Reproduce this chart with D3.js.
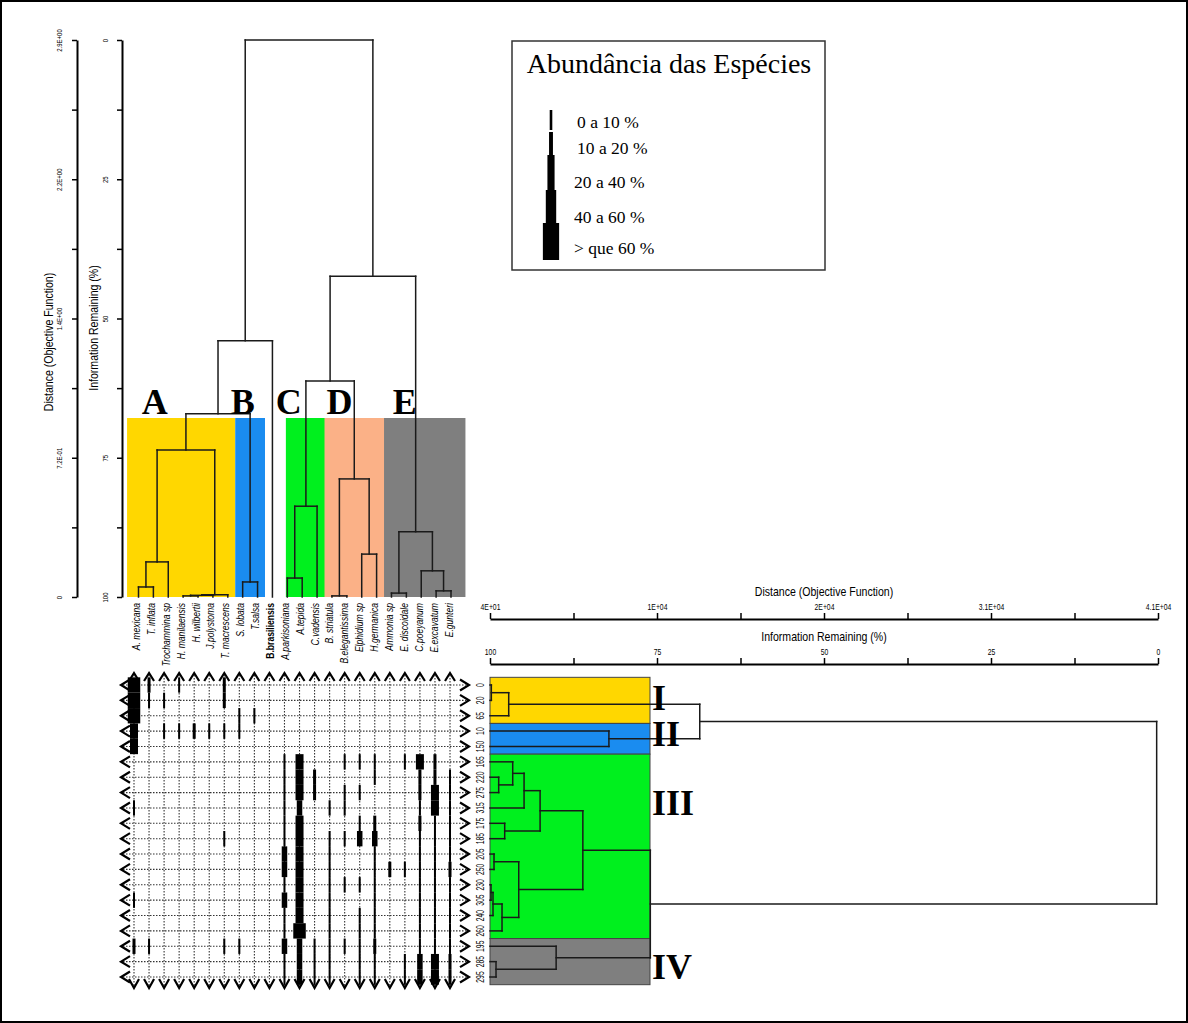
<!DOCTYPE html>
<html>
<head>
<meta charset="utf-8">
<script src="https://cdn.jsdelivr.net/npm/d3@7"></script>
<style>
  body { margin: 0; background: #fff; }
  svg text { font-family: "Liberation Sans", Arial, sans-serif; }
  svg text.serif { font-family: "Liberation Serif", "Times New Roman", serif; }
</style>
</head>
<body>
<svg id="chart"></svg>
<script>
// species (columns / top dendrogram leaves)
let species = ["A. mexicana", "T. inflata", "Trochammina sp", "H. manilaensis", "H. wilbertii",
  "J.polystoma", "T. macrescens", "S. lobata", "T.salsa", "B.brasiliensis", "A.parkisoniana",
  "A.tepida", "C.vadensis", "B. striatula", "B.elegantissima", "Elphidium sp", "H.germanica",
  "Ammonia sp", "E. discoidale", "C.poeyanum", "E.excavatum", "E.gunteri"];

// samples (rows / right dendrogram leaves)
let samples = ["0", "20", "65", "10", "150", "165", "220", "275", "315", "175", "185",
  "205", "250", "230", "305", "240", "260", "195", "285", "295"];

// dendrograms: [information remaining %, left, right], leaves = index
let speciesTree = [0,
  [54, [67.1, [73.6, [93.7, [98.2, 0, 1], 2], [99.6, [99.7, [99.8, 3, 4], 5], 6]], [97.3, 7, 8]], 9],
  [42.4, [61.2, [83.7, [96.6, 10, 11], 12], [78.8, [99.8, 13, 14], [92.3, 15, 16]]],
    [88.3, [99.3, 17, 18], [95.3, 19, [98.9, 20, 21]]]]];

let sampleTree = [0.2,
  [68.6, [97.2, [99.8, 0, 1], 2], [82.2, 3, 4]],
  [76.0, [86.1, [92.5, [94.9, [96.6, 5, [98.7, 6, 7]], 8], [97.8, 9, 10]],
    [95.7, [99.4, 11, 12], [98.2, [99.55, [99.85, 13, 14], 15], 16]]],
    [90.1, 17, [99.1, 18, 19]]]];

// groups
let speciesGroups = ["A", "B", "C", "D", "E"];
let speciesGroupMembers = [[0, 6], [7, 8], [10, 12], [13, 16], [17, 21]];
let speciesGroupLabelAt = [1.1, 7.0, 10.1, 13.5, 17.9];
let sampleGroups = ["I", "II", "III", "IV"];
let sampleGroupMembers = [[0, 2], [3, 4], [5, 16], [17, 19]];
let sampleGroupLabelAt = [0.75, 3.1, 7.6, 18.3];
let groupColors = ["#ffd700", "#1a8cf0", "#00f01e", "#fbb187", "#7f7f7f"];
let sampleColors = ["#ffd700", "#1a8cf0", "#00f01e", "#7f7f7f"];

// abundance class per sample (row) and species (column): 0 none .. 5 > 60 %
let abundance = [
  "5201002000000000000000",
  "5110002000000000000000",
  "5000000110000000000000",
  "4011211100000000000000",
  "4000000000000000000000",
  "0000000000140011101420",
  "0000000000142000100221",
  "0000000000142011000241",
  "1000000000130110000141",
  "0000000000140001200211",
  "0000001000140113300111",
  "0000000000340100100111",
  "0000000000340100121112",
  "0000000000140111100111",
  "1000000000340100100111",
  "0000000000140101100111",
  "0000000000150101100111",
  "2100001100331111200111",
  "0000000000131101101342",
  "0000000000131101101342"
];
let classLabels = ["0 a 10 %", "10 a 20 %", "20 a 40 %", "40 a 60 %", "> que 60 %"];

// axes
let infoTicks = [0, 25, 50, 75, 100];
let allTicks = [0, 12.5, 25, 37.5, 50, 62.5, 75, 87.5, 100];
let infoLabels = ["0", "25", "50", "75", "100"];
let leftDistLabels = ["2.9E+00", "2.2E+00", "1.4E+00", "7.2E-01", "0"];
let rightDistLabels = ["4.1E+04", "3.1E+04", "2E+04", "1E+04", "4E+01"];

let svgWidth = 1188, svgHeight = 1023;
let svg = d3.select("#chart").attr("width", svgWidth).attr("height", svgHeight);

svg.append("rect").attr("x", 1).attr("y", 1).attr("width", svgWidth - 2).attr("height", svgHeight - 2)
  .attr("fill", "#fff").attr("stroke", "#000").attr("stroke-width", 2);

// scales
let leafX = d3.scalePoint().domain(d3.range(species.length)).range([138.5, 451]);
let gridX = d3.scalePoint().domain(d3.range(species.length)).range([134, 450]);
let infoY = d3.scaleLinear().domain([0, 100]).range([40, 597]);
let rowY = d3.scalePoint().domain(d3.range(samples.length)).range([685, 977]);
let infoX = d3.scaleLinear().domain([100, 0]).range([490, 1158]);
let barW = d3.scaleOrdinal().domain([1, 2, 3, 4, 5]).range([2, 3, 5.5, 8, 12.5]);

function treeSegments(tree, pos) {
  let segs = [];
  function walk(n) {
    if (!Array.isArray(n)) return [pos(n), 100];
    let a = walk(n[1]), b = walk(n[2]), h = n[0];
    segs.push([a[0], a[1], a[0], h], [b[0], b[1], b[0], h], [a[0], h, b[0], h]);
    return [(a[0] + b[0]) / 2, h];
  }
  walk(tree);
  return segs;
}

let fmt = labels => d => { let i = infoTicks.indexOf(d); return i < 0 ? "" : labels[i]; };

// ---- left axes
function leftAxis(x, labels, off) {
  let g = svg.append("g").attr("transform", `translate(${x},0)`)
    .call(d3.axisLeft(infoY).tickValues(allTicks).tickSize(5).tickSizeOuter(0).tickFormat(fmt(labels)));
  g.attr("font-family", null).attr("font-size", null);
  g.select(".domain").attr("stroke-width", 2);
  g.selectAll(".tick line").attr("stroke-width", 1.5);
  g.selectAll(".tick text").attr("transform", "rotate(-90) scale(0.75,1)").attr("x", 0).attr("y", -off)
    .attr("dy", 0).attr("text-anchor", "middle").style("font-size", "8px");
}
leftAxis(77, leftDistLabels, 15);
leftAxis(122, infoLabels, 14);

svg.append("text").attr("transform", "translate(53,342) rotate(-90) scale(0.88,1)").attr("text-anchor", "middle")
  .style("font-size", "12px").text("Distance (Objective Function)");
svg.append("text").attr("transform", "translate(98,328) rotate(-90) scale(0.88,1)").attr("text-anchor", "middle")
  .style("font-size", "12px").text("Information Remaining (%)");

// ---- right axes
function topAxis(y, labels) {
  let g = svg.append("g").attr("transform", `translate(0,${y})`)
    .call(d3.axisTop(infoX).tickValues(allTicks).tickSize(6).tickSizeOuter(0).tickFormat(fmt(labels)));
  g.attr("font-family", null).attr("font-size", null);
  g.select(".domain").attr("stroke-width", 2);
  g.selectAll(".tick line").attr("stroke-width", 1.5);
  g.selectAll(".tick text").attr("y", -9).attr("transform", "scale(0.8,1)").style("font-size", "8.5px");
}
topAxis(619, rightDistLabels);
topAxis(664, infoLabels);

svg.append("text").attr("transform", "translate(824,596) scale(0.88,1)").attr("text-anchor", "middle")
  .style("font-size", "12px").text("Distance (Objective Function)");
svg.append("text").attr("transform", "translate(824,641) scale(0.88,1)").attr("text-anchor", "middle")
  .style("font-size", "12px").text("Information Remaining (%)");

// ---- top dendrogram (species)
let sStep = leafX.step();
let regionTop = 418;
speciesGroups.forEach((name, i) => {
  let [a, b] = speciesGroupMembers[i];
  let x0 = leafX(a) - sStep / 2 - (i === 0 ? 4 : 0) + (i === 2 ? 6 : 0);
  let x1 = leafX(b) + sStep / 2 + (i === 4 ? 7 : 0) + (i === 2 || i === 3 ? 3 : 0);
  svg.append("rect").attr("x", x0).attr("y", regionTop)
    .attr("width", x1 - x0).attr("height", infoY(100) - regionTop)
    .attr("fill", groupColors[i]);
});

svg.append("g").selectAll("line")
  .data(treeSegments(speciesTree, leafX))
  .enter().append("line")
  .attr("x1", d => d[0]).attr("y1", d => infoY(d[1]))
  .attr("x2", d => d[2]).attr("y2", d => infoY(d[3]))
  .attr("stroke", "#1a1a1a").attr("stroke-width", 1.5).attr("stroke-linecap", "square");

speciesGroups.forEach((name, i) => {
  svg.append("text").attr("class", "serif")
    .attr("x", leafX(0) + speciesGroupLabelAt[i] * sStep).attr("y", 414)
    .attr("text-anchor", "middle").style("font-size", "36px").style("font-weight", "bold")
    .text(name);
});

svg.append("g").selectAll("text")
  .data(species)
  .enter().append("text")
  .attr("transform", (d, i) => `translate(${leafX(i) + 1.5},603) rotate(-90) scale(0.78,1)`)
  .attr("text-anchor", "end")
  .style("font-size", "11px")
  .style("font-style", (d, i) => i === 9 ? "normal" : "italic")
  .style("font-weight", (d, i) => i === 9 ? "bold" : "normal")
  .text(d => d);

// ---- abundance grid
let grid = svg.append("g");
let rStep = rowY.step();
grid.selectAll(".vline").data(species).enter().append("line")
  .attr("x1", (d, i) => gridX(i)).attr("x2", (d, i) => gridX(i))
  .attr("y1", 675).attr("y2", 987)
  .attr("stroke", "#333").attr("stroke-width", 1.1).attr("stroke-dasharray", "1.5,1.5");
grid.selectAll(".hline").data(samples).enter().append("line")
  .attr("y1", (d, i) => rowY(i)).attr("y2", (d, i) => rowY(i))
  .attr("x1", 123).attr("x2", 467)
  .attr("stroke", "#333").attr("stroke-width", 1.1).attr("stroke-dasharray", "1.5,1.5");

let cells = [];
abundance.forEach((row, r) => row.split("").forEach((c, s) => { if (+c > 0) cells.push({ r: r, s: s, c: +c }); }));
grid.selectAll(".bar").data(cells).enter().append("rect")
  .attr("x", d => gridX(d.s) - barW(d.c) / 2).attr("width", d => barW(d.c))
  .attr("y", d => rowY(d.r) - rStep / 2).attr("height", rStep)
  .attr("fill", "#000");

let chev = grid.append("g").attr("fill", "none").attr("stroke", "#000").attr("stroke-width", 2.2);
species.forEach((d, i) => {
  let x = gridX(i);
  chev.append("path").attr("d", `M${x - 5},681 L${x},673 L${x + 5},681`);
  chev.append("path").attr("d", `M${x - 5},979 L${x},988 L${x + 5},979`);
});
samples.forEach((d, i) => {
  let y = rowY(i);
  chev.append("path").attr("d", `M130,${y - 5.5} L121,${y} L130,${y + 5.5}`);
  chev.append("path").attr("d", `M460,${y - 5.5} L469,${y} L460,${y + 5.5}`);
});

// ---- right dendrogram (samples)
let bandRight = 650;
sampleGroups.forEach((name, i) => {
  let [a, b] = sampleGroupMembers[i];
  svg.append("rect").attr("x", infoX(100)).attr("width", bandRight - infoX(100))
    .attr("y", rowY(a) - rStep / 2).attr("height", rowY(b) - rowY(a) + rStep)
    .attr("fill", sampleColors[i]).attr("stroke", "#444").attr("stroke-width", 1);
});

svg.append("g").selectAll("line")
  .data(treeSegments(sampleTree, rowY))
  .enter().append("line")
  .attr("x1", d => infoX(d[1])).attr("y1", d => d[0])
  .attr("x2", d => infoX(d[3])).attr("y2", d => d[2])
  .attr("stroke", "#1a1a1a").attr("stroke-width", 1.5).attr("stroke-linecap", "square");

sampleGroups.forEach((name, i) => {
  svg.append("text").attr("class", "serif")
    .attr("x", 652).attr("y", rowY(0) + sampleGroupLabelAt[i] * rStep + 13)
    .style("font-size", "36px").style("font-weight", "bold")
    .text(name);
});

svg.append("g").selectAll("text")
  .data(samples)
  .enter().append("text")
  .attr("transform", (d, i) => `translate(484,${rowY(i)}) rotate(-90) scale(0.68,1)`)
  .attr("text-anchor", "middle")
  .style("font-size", "10px")
  .text(d => d);

// ---- legend
let legend = svg.append("g");
legend.append("rect").attr("x", 512).attr("y", 41).attr("width", 313).attr("height", 229)
  .attr("fill", "#fff").attr("stroke", "#333").attr("stroke-width", 1.5);
legend.append("text").attr("class", "serif").attr("x", 669).attr("y", 73)
  .attr("text-anchor", "middle").style("font-size", "28px").text("Abundância das Espécies");

let legendEdges = [110, 132, 155, 190, 223, 260];
let legendTextY = [122, 148, 182, 217, 248];
classLabels.forEach((lab, i) => {
  let w = barW(i + 1) * 1.3;
  legend.append("rect").attr("x", 551 - w / 2).attr("width", w)
    .attr("y", legendEdges[i]).attr("height", legendEdges[i + 1] - legendEdges[i] - (i < 1 ? 2 : 0))
    .attr("fill", "#000");
  legend.append("text").attr("class", "serif").attr("x", i < 2 ? 577 : 574).attr("y", legendTextY[i])
    .attr("dy", "0.35em").style("font-size", "17.5px").text(lab);
});
</script>
</body>
</html>
